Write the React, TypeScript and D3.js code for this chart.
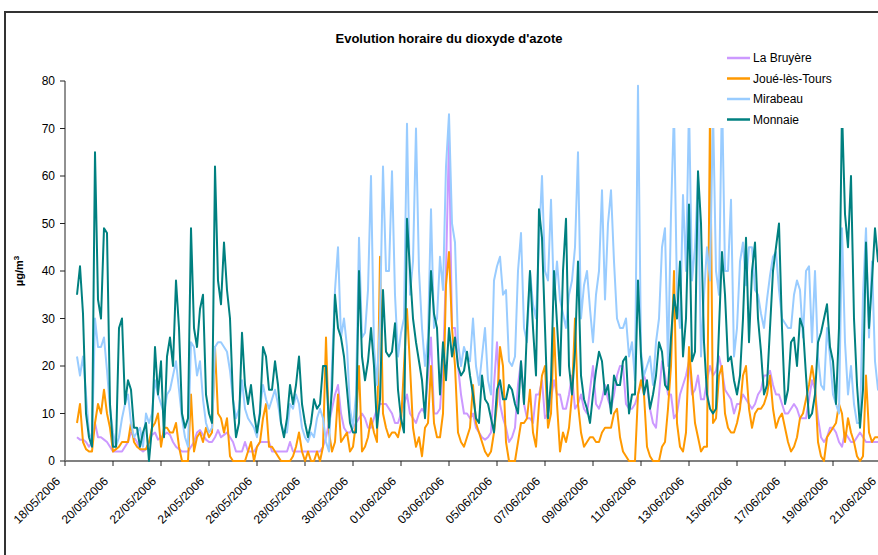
import React, { useEffect, useRef } from 'react';
import * as d3 from 'd3';

const W = 878;
const H = 555;

const seriesNames = ['La Bruyère', 'Joué-lès-Tours', 'Mirabeau', 'Monnaie'];
const seriesColors = ['#CC99FF', '#FF9900', '#99CCFF', '#008080'];

// readings every 3 hours starting 18/05/2006 12:00 (values in µg/m3)
const firstReading = '2006-05-18T12:00:00Z';
const stepHours = 3;

const laBruyere = [
  5, 4.5, 4.5, 4, 3, 4, 8, 5, 5, 4.5, 4, 3, 2, 2, 2, 2, 3, 4, 6, 5,
  4, 2.5, 2, 2.5, 4, 5.5, 6, 4.5, 5, 5.5, 6, 5.5, 4, 3, 2.5, 2, 2, 2, 3, 4,
  6, 6.5, 5.5, 4.5, 4, 4, 5, 6.5, 5, 5.5, 6, 5, 4, 2, 2, 2, 4, 2, 2, 2,
  3, 4, 4, 4, 4,
  2, 2, 2, 2, 2, 2, 4, 2, 2, 2, 2, 2, 2, 2, 2, 2, 2, 3, 5, 8,
  11, 14, 16, 10, 7, 6, 6, 7, 8, 9, 10, 9, 7, 7, 9, 11, 12, 12, 12, 11,
  10, 8, 8, 10, 12, 14, 10, 9, 8, 10, 11, 10, 18, 26, 10, 10, 11, 20, 40, 68,
  28, 28, 20, 14, 10, 10, 9,
  10, 7, 6, 5, 4.5, 5, 6, 16, 25, 12, 9, 7, 4, 5, 7, 16, 21, 12, 9, 9,
  8, 14, 14, 17, 9, 10, 13, 17, 14, 14, 11, 11, 14, 18, 11, 12, 14, 11, 10, 15,
  20, 12, 11, 13, 16, 13, 11, 14, 18, 20, 20, 12, 11, 11, 12, 14, 16, 18, 16, 11,
  8, 7, 14, 21, 18, 14,
  14, 9, 10, 14, 16, 18, 21, 14, 15, 18, 13, 13, 17, 20, 18, 19, 22, 19, 15, 14,
  13, 10, 12, 12, 14, 13, 12, 11, 12, 14, 15, 18, 18, 19, 16, 14, 14, 12, 10, 10,
  11, 12, 11, 9, 9, 9, 13, 17, 15, 9, 5, 4, 5, 7, 7, 6, 4, 3, 6, 5,
  4, 4, 5, 6, 5, 4, 4, 4, 4, 4, 4,
];

const joueLesTours = [
  8, 12, 4, 2.5, 2, 2, 8, 12, 10, 15, 10, 7, 2, 2.5, 3, 4, 4, 4, 8, 4,
  3, 2.5, 2.5, 2.5, 4, 7, 8, 10, 3, 7, 7, 6, 6, 8, 3, 0, 0, 0, 14, 2,
  5, 6, 4, 7, 5, 6, 24, 10, 9, 6, 9, 1, 0, 0, 0, 0, 0, 2, 4, 0,
  3, 4, 9, 12, 3,
  3, 2, 1, 0, 0, 0, 0, 1, 3, 6, 2, 0, 2, 0, 0, 2, 0, 3, 26, 6,
  2, 4, 14, 4, 5, 6, 2, 3, 8, 20, 2, 3, 5, 9, 6, 4, 43, 10, 7, 5,
  6, 6, 5, 8, 20, 32, 20, 7, 3, 5, 1, 7, 8, 20, 8, 5, 5, 10, 37, 44,
  28, 20, 6, 4, 3, 5, 7,
  16, 8, 6, 4, 2, 1, 2, 6, 12, 24, 20, 4, 0, 0, 0, 4, 8, 8, 9, 15,
  6, 3, 12, 18, 20, 7, 10, 28, 12, 2, 6, 4, 7, 14, 30, 12, 6, 3, 4, 5,
  5, 4, 4, 6, 7, 7, 7, 10, 11, 5, 2, 1, 0, 0, 0, 14, 17, 14, 3, 1,
  0, 0, 0, 3, 4, 11,
  20, 40, 8, 3, 2, 6, 24, 16, 8, 5, 2, 3, 3, 74, 8, 9, 18, 20, 10, 7,
  6, 6, 8, 11, 18, 20, 11, 7, 10, 11, 11, 12, 14, 18, 11, 7, 9, 10, 7, 4,
  2, 3, 5, 9, 10, 13, 16, 20, 16, 4, 1, 0, 5, 6, 7, 8, 12, 10, 4, 9,
  6, 4, 1, 0, 1, 18, 6, 4, 5, 5, 5,
];

const mirabeau = [
  22, 18, 22, 14, 6, 4, 30, 24, 24, 26, 19, 11, 6, 3, 5, 9, 12, 14, 8, 5,
  6, 7, 3, 10, 8, 10, 17, 14, 12, 10, 14, 15, 18, 21, 15, 9, 5, 3, 25, 24,
  18, 21, 13, 8, 6, 7, 24, 25, 25, 24, 23, 19, 13, 9, 11, 17, 11, 9, 8, 7,
  5, 11, 16, 13, 11,
  13, 15, 12, 8, 6, 6, 12, 11, 14, 12, 7, 5, 4, 6, 5, 9, 11, 9, 4, 2,
  20, 36, 45, 26, 30, 24, 11, 7, 14, 47, 26, 27, 36, 60, 24, 16, 30, 62, 40, 40,
  61, 35, 22, 27, 30, 71, 35, 42, 70, 40, 28, 20, 26, 53, 28, 30, 43, 36, 62, 73,
  50, 46, 25, 20, 24, 22, 21,
  30, 20, 16, 22, 28, 17, 14, 38, 41, 43, 35, 36, 21, 20, 22, 40, 48, 28, 25, 40,
  33, 30, 46, 60, 40, 38, 55, 34, 42, 34, 31, 28, 35, 38, 45, 65, 30, 37, 40, 32,
  25, 35, 40, 57, 34, 50, 57, 42, 30, 28, 28, 30, 22, 25, 17, 79, 23, 18, 20, 22,
  16, 25, 30, 45, 49, 20,
  52, 74, 35, 28, 56, 40, 75, 38, 45, 60, 22, 35, 45, 38, 74, 40, 35, 78, 40, 40,
  55, 22, 28, 42, 46, 37, 45, 45, 36, 35, 31, 28, 34, 39, 43, 44, 36, 30, 29, 28,
  28, 35, 38, 36, 26, 40, 41, 25, 40, 22, 16, 15, 28, 22, 14, 12, 10, 49, 25, 14,
  20, 12, 8, 8, 35, 49, 26, 42, 21, 15, 20,
];

const monnaie = [
  35, 41, 31, 10, 5, 3, 65, 34, 30, 49, 48, 12, 3, 3, 28, 30, 12, 17, 15, 7,
  7, 3, 6, 8, 0, 7, 24, 14, 21, 5, 22, 26, 20, 38, 28, 10, 7, 9, 49, 28,
  24, 32, 35, 14, 10, 8, 62, 38, 33, 46, 36, 30, 13, 5, 8, 27, 16, 12, 16, 10,
  6, 10, 24, 22, 15,
  15, 21, 16, 8, 5, 9, 16, 12, 16, 22, 12, 8, 5, 8, 13, 11, 12, 20, 20, 7,
  15, 35, 28, 26, 22, 15, 8, 6, 6, 40, 22, 17, 21, 28, 20, 7, 13, 36, 23, 22,
  23, 29, 15, 9, 6, 51, 40, 30, 25, 21, 17, 9, 22, 40, 31, 28, 14, 25, 17, 28,
  22, 26, 20, 18, 19, 23, 18,
  14, 9, 8, 18, 13, 12, 9, 6, 15, 17, 13, 13, 16, 15, 12, 10, 21, 12, 28, 40,
  28, 18, 53, 47, 28, 9, 17, 40, 29, 18, 40, 51, 20, 14, 23, 42, 18, 13, 11, 8,
  14, 19, 23, 21, 14, 16, 10, 18, 16, 16, 21, 22, 10, 14, 14, 38, 22, 14, 17, 11,
  14, 18, 25, 23, 16, 15,
  26, 35, 30, 42, 22, 30, 54, 21, 23, 61, 50, 25, 14, 11, 10, 11, 28, 44, 35, 21,
  22, 17, 14, 18, 30, 47, 25, 40, 46, 30, 23, 14, 16, 28, 40, 45, 50, 28, 12, 15,
  25, 26, 20, 30, 28, 18, 9, 10, 14, 25, 27, 30, 33, 24, 21, 12, 28, 74, 52, 45,
  60, 30, 16, 7, 15, 46, 28, 38, 49, 42, 50,
];

const dateTicks = [
  '18/05/2006', '20/05/2006', '22/05/2006', '24/05/2006', '26/05/2006', '28/05/2006',
  '30/05/2006', '01/06/2006', '03/06/2006', '05/06/2006', '07/06/2006', '09/06/2006',
  '11/06/2006', '13/06/2006', '15/06/2006', '17/06/2006', '19/06/2006', '21/06/2006',
];
const valueTicks = [0, 10, 20, 30, 40, 50, 60, 70, 80];

const FONT = "'Liberation Sans', Arial, sans-serif";

export default function App() {
  const svgRef = useRef<SVGSVGElement>(null);

  useEffect(() => {
    if (!svgRef.current) return;
    const svg = d3.select(svgRef.current);
    svg.selectAll('*').remove();

    const parse = d3.utcParse('%d/%m/%Y');
    const tickDates = dateTicks.map(d => parse(d) as Date);

    const x = d3.scaleUtc()
      .domain([tickDates[0], tickDates[tickDates.length - 1]])
      .range([65, 881]);
    const y = d3.scaleLinear().domain([0, 80]).range([461, 81]);

    const t0 = new Date(firstReading).getTime();
    const timeAt = (i: number) => new Date(t0 + i * stepHours * 3600 * 1000);

    // chart area frame (left and top edges visible)
    svg.append('path')
      .attr('d', `M5,${H + 2} V12 H${W + 2}`)
      .attr('fill', 'none')
      .attr('stroke', '#333')
      .attr('stroke-width', 2);

    // title
    svg.append('text')
      .attr('x', 449)
      .attr('y', 43)
      .attr('text-anchor', 'middle')
      .attr('font-family', FONT)
      .attr('font-size', 13)
      .attr('font-weight', 'bold')
      .text("Evolution horaire du dioxyde d'azote");

    // y axis
    svg.append('line')
      .attr('x1', 65).attr('x2', 65)
      .attr('y1', y(80)).attr('y2', y(0))
      .attr('stroke', '#222').attr('stroke-width', 1);

    valueTicks.forEach(v => {
      svg.append('line')
        .attr('x1', 60).attr('x2', 65)
        .attr('y1', y(v)).attr('y2', y(v))
        .attr('stroke', '#222').attr('stroke-width', 1);
      svg.append('text')
        .attr('x', 55)
        .attr('y', y(v))
        .attr('dy', '0.35em')
        .attr('text-anchor', 'end')
        .attr('font-family', FONT)
        .attr('font-size', 12)
        .attr('fill', '#000')
        .text(v);
    });

    const yTitle = svg.append('text')
      .attr('transform', 'translate(23,271) rotate(-90)')
      .attr('text-anchor', 'middle')
      .attr('font-family', FONT)
      .attr('font-size', 11)
      .attr('font-weight', 'bold');
    yTitle.append('tspan').text('µg/m');
    yTitle.append('tspan').attr('dy', -4).attr('font-size', 8).text('3');

    // x axis
    svg.append('line')
      .attr('x1', 65).attr('x2', W)
      .attr('y1', y(0)).attr('y2', y(0))
      .attr('stroke', '#808080').attr('stroke-width', 2);

    tickDates.forEach((d, i) => {
      const tx = x(d);
      svg.append('line')
        .attr('x1', tx).attr('x2', tx)
        .attr('y1', y(0)).attr('y2', y(0) + 5)
        .attr('stroke', '#222').attr('stroke-width', 1);
      svg.append('text')
        .attr('transform', `translate(${tx - 4},${y(0) + 21}) rotate(-45)`)
        .attr('text-anchor', 'end')
        .attr('font-family', FONT)
        .attr('font-size', 12)
        .attr('fill', '#000')
        .text(dateTicks[i]);
    });

    // series
    const allSeries = [laBruyere, joueLesTours, mirabeau, monnaie];
    const line = d3.line<number>()
      .x((_, i) => x(timeAt(i)))
      .y(v => y(v));

    allSeries.forEach((vals, s) => {
      svg.append('path')
        .datum(vals)
        .attr('d', line)
        .attr('fill', 'none')
        .attr('stroke', seriesColors[s])
        .attr('stroke-width', 2)
        .attr('stroke-linejoin', 'round');
    });

    // legend (opaque box, covers the tops of the lines)
    svg.append('rect')
      .attr('x', 668).attr('y', 44)
      .attr('width', W - 668).attr('height', 84)
      .attr('fill', '#fff');

    seriesNames.forEach((name, i) => {
      const ly = 58 + i * 20.5;
      svg.append('line')
        .attr('x1', 727).attr('x2', 750)
        .attr('y1', ly).attr('y2', ly)
        .attr('stroke', seriesColors[i])
        .attr('stroke-width', 2.5);
      svg.append('text')
        .attr('x', 753)
        .attr('y', ly)
        .attr('dy', '0.35em')
        .attr('font-family', FONT)
        .attr('font-size', 12)
        .attr('fill', '#000')
        .text(name);
    });
  }, []);

  return (
    <svg
      ref={svgRef}
      width={W}
      height={H}
      viewBox={`0 0 ${W} ${H}`}
      style={{ position: 'absolute', left: 0, top: 0, background: '#fff', display: 'block' }}
    />
  );
}
